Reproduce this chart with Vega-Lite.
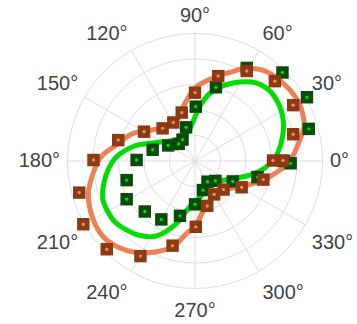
{
  "$schema": "https://vega.github.io/schema/vega-lite/v6.json",
  "width": 255,
  "height": 255,
  "autosize": {"type": "none"},
  "padding": {"left": 67.5, "top": 33.5, "right": 34.5, "bottom": 35.5},
  "background": "white",
  "config": {"view": {"stroke": null}},
  "datasets": {
    "rings": [{"r": 1}, {"r": 2}, {"r": 3}, {"r": 4}, {"r": 5}],
    "spokes": [
      {"x": -5, "y": 0, "x2": 5, "y2": 0},
      {"x": -4.33, "y": -2.5, "x2": 4.33, "y2": 2.5},
      {"x": -2.5, "y": -4.33, "x2": 2.5, "y2": 4.33},
      {"x": 0, "y": -5, "x2": 0, "y2": 5},
      {"x": 2.5, "y": -4.33, "x2": -2.5, "y2": 4.33},
      {"x": 4.33, "y": -2.5, "x2": -4.33, "y2": 2.5}
    ],
    "labels": [
      {"angle": 0, "label": "0°"}, {"angle": 30, "label": "30°"}, {"angle": 60, "label": "60°"},
      {"angle": 90, "label": "90°"}, {"angle": 120, "label": "120°"}, {"angle": 150, "label": "150°"},
      {"angle": 180, "label": "180°"}, {"angle": 210, "label": "210°"}, {"angle": 240, "label": "240°"},
      {"angle": 270, "label": "270°"}, {"angle": 300, "label": "300°"}, {"angle": 330, "label": "330°"}
    ],
    "orangeLine": [
      {"i": 1, "x": 3.725, "y": 0}, {"i": 2, "x": 4.184, "y": 1.02}, {"i": 3, "x": 4.275, "y": 1.541},
      {"i": 4, "x": 4.051, "y": 2.325}, {"i": 5, "x": 3.529, "y": 2.98}, {"i": 6, "x": 2.812, "y": 3.502},
      {"i": 7, "x": 2.027, "y": 3.635}, {"i": 8, "x": 1.373, "y": 3.478}, {"i": 9, "x": 0.902, "y": 3.333},
      {"i": 10, "x": 0.067, "y": 2.914}, {"i": 11, "x": -0.471, "y": 2.129}, {"i": 12, "x": -0.718, "y": 1.608},
      {"i": 13, "x": -1.373, "y": 1.282}, {"i": 14, "x": -2.42, "y": 1.086}, {"i": 15, "x": -3.02, "y": 0.667},
      {"i": 16, "x": -3.725, "y": 0.118}, {"i": 17, "x": -4.118, "y": -0.875}, {"i": 18, "x": -4.184, "y": -1.463},
      {"i": 19, "x": -3.988, "y": -2.314}, {"i": 20, "x": -3.596, "y": -2.969}, {"i": 21, "x": -3.008, "y": -3.384},
      {"i": 22, "x": -2.286, "y": -3.596}, {"i": 23, "x": -1.502, "y": -3.557}, {"i": 24, "x": -0.851, "y": -3.361},
      {"i": 25, "x": -0.325, "y": -2.835}, {"i": 26, "x": 0, "y": -2.576}, {"i": 27, "x": 0.459, "y": -1.725},
      {"i": 28, "x": 0.98, "y": -1.165}, {"i": 29, "x": 1.831, "y": -1.008}, {"i": 30, "x": 2.678, "y": -0.745},
      {"i": 31, "x": 3.333, "y": -0.353}
    ],
    "greenLine": [
      {"i": 1, "x": 3.02, "y": 0}, {"i": 2, "x": 3.294, "y": 0.431}, {"i": 3, "x": 3.471, "y": 1.294},
      {"i": 4, "x": 3.373, "y": 2.0}, {"i": 5, "x": 3.098, "y": 2.549}, {"i": 6, "x": 2.812, "y": 2.851},
      {"i": 7, "x": 2.392, "y": 3.059}, {"i": 8, "x": 2.027, "y": 3.11}, {"i": 9, "x": 1.49, "y": 3.059},
      {"i": 10, "x": 0.98, "y": 2.902}, {"i": 11, "x": 0.549, "y": 2.627}, {"i": 12, "x": 0.263, "y": 2.263},
      {"i": 13, "x": 0, "y": 1.737}, {"i": 14, "x": -0.235, "y": 1.216}, {"i": 15, "x": -0.627, "y": 0.863},
      {"i": 16, "x": -1.243, "y": 0.757}, {"i": 17, "x": -1.765, "y": 0.694}, {"i": 18, "x": -2.42, "y": 0.569},
      {"i": 19, "x": -3.071, "y": 0.169}, {"i": 20, "x": -3.412, "y": -0.353}, {"i": 21, "x": -3.588, "y": -0.941},
      {"i": 22, "x": -3.608, "y": -1.529}, {"i": 23, "x": -3.412, "y": -2.0}, {"i": 24, "x": -3.137, "y": -2.392},
      {"i": 25, "x": -2.678, "y": -2.706}, {"i": 26, "x": -2.157, "y": -2.922}, {"i": 27, "x": -1.502, "y": -2.941},
      {"i": 28, "x": -0.718, "y": -2.443}, {"i": 29, "x": -0.263, "y": -1.855}, {"i": 30, "x": 0.263, "y": -1.333},
      {"i": 31, "x": 0.459, "y": -0.875}, {"i": 32, "x": 1.176, "y": -0.745}, {"i": 33, "x": 2.027, "y": -0.588},
      {"i": 34, "x": 2.627, "y": -0.353}
    ],
    "brownPts": [
      {"x": 3.45, "y": 0.02}, {"x": 3.85, "y": 1.05}, {"x": 3.85, "y": 2.19}, {"x": 3.13, "y": 3.13},
      {"x": 2.03, "y": 3.53}, {"x": 0.91, "y": 3.33}, {"x": 0.0, "y": 2.68}, {"x": -0.52, "y": 1.9},
      {"x": -0.85, "y": 1.51}, {"x": -1.27, "y": 1.28}, {"x": -2.0, "y": 1.15}, {"x": -3.01, "y": 0.82},
      {"x": -3.98, "y": 0.04}, {"x": -4.54, "y": -1.24}, {"x": -4.38, "y": -2.48}, {"x": -3.46, "y": -3.46},
      {"x": -2.14, "y": -3.73}, {"x": -0.88, "y": -3.32}, {"x": 0.03, "y": -2.58}, {"x": 0.48, "y": -1.76},
      {"x": 0.75, "y": -1.31}, {"x": 1.12, "y": -1.12}, {"x": 1.83, "y": -1.03}, {"x": 2.68, "y": -0.73},
      {"x": 3.06, "y": 0.02}
    ],
    "greenPts": [
      {"x": 3.75, "y": -0.09}, {"x": 4.46, "y": 1.26}, {"x": 4.39, "y": 2.5}, {"x": 3.43, "y": 3.47},
      {"x": 2.03, "y": 3.65}, {"x": 0.82, "y": 2.89}, {"x": 0.03, "y": 2.13}, {"x": -0.35, "y": 1.32},
      {"x": -0.49, "y": 0.84}, {"x": -0.64, "y": 0.67}, {"x": -1.05, "y": 0.61}, {"x": -1.66, "y": 0.44},
      {"x": -2.29, "y": 0.04}, {"x": -2.68, "y": -0.75}, {"x": -2.68, "y": -1.5}, {"x": -1.97, "y": -1.98},
      {"x": -1.32, "y": -2.29}, {"x": -0.59, "y": -2.15}, {"x": 0.0, "y": -1.7}, {"x": 0.31, "y": -1.14},
      {"x": 0.49, "y": -0.81}, {"x": 0.8, "y": -0.78}, {"x": 1.48, "y": -0.8}, {"x": 2.45, "y": -0.63},
      {"x": 3.49, "y": 0.0}
    ]
  },
  "layer": [
    {
      "data": {"name": "rings"},
      "mark": {"type": "arc", "theta": 0, "theta2": 6.2832, "filled": false, "stroke": "#dddddd", "strokeWidth": 1},
      "encoding": {
        "radius": {"field": "r", "type": "quantitative", "stack": null, "scale": {"type": "linear", "domain": [0, 5], "range": [0, 127.5], "zero": true}}
      }
    },
    {
      "data": {"name": "spokes"},
      "mark": {"type": "rule", "stroke": "#dddddd", "strokeWidth": 1},
      "encoding": {
        "x": {"field": "x", "type": "quantitative", "scale": {"domain": [-5, 5], "nice": false, "zero": false}, "axis": null},
        "y": {"field": "y", "type": "quantitative", "scale": {"domain": [-5, 5], "nice": false, "zero": false}, "axis": null},
        "x2": {"field": "x2"},
        "y2": {"field": "y2"}
      }
    },
    {
      "data": {"name": "labels"},
      "mark": {
        "type": "text",
        "font": "Liberation Sans",
        "fontSize": 20,
        "fill": "#444444",
        "align": {"expr": "abs(cos(datum.angle*PI/180)) < 0.1 ? 'center' : (cos(datum.angle*PI/180) > 0 ? 'left' : 'right')"},
        "baseline": {"expr": "abs(sin(datum.angle*PI/180)) < 0.1 ? 'middle' : (sin(datum.angle*PI/180) > 0 ? 'bottom' : 'top')"},
        "dy": {"expr": "sin(datum.angle*PI/180) < -0.1 ? 5 : 0"}
      },
      "encoding": {
        "theta": {"field": "angle", "type": "quantitative", "scale": {"domain": [0, 360], "range": [1.5707963, -4.712389]}},
        "radius": {"datum": 5.29, "type": "quantitative", "scale": {"type": "linear", "domain": [0, 5], "range": [0, 127.5], "zero": true}},
        "text": {"field": "label"}
      }
    },
    {
      "data": {"name": "greenLine"},
      "mark": {"type": "line", "interpolate": "cardinal-closed", "stroke": "#00dd00", "strokeWidth": 5},
      "encoding": {
        "x": {"field": "x", "type": "quantitative", "scale": {"domain": [-5, 5], "nice": false, "zero": false}, "axis": null},
        "y": {"field": "y", "type": "quantitative", "scale": {"domain": [-5, 5], "nice": false, "zero": false}, "axis": null},
        "order": {"field": "i"}
      }
    },
    {
      "data": {"name": "orangeLine"},
      "mark": {"type": "line", "interpolate": "cardinal-closed", "stroke": "#ee8055", "strokeWidth": 5},
      "encoding": {
        "x": {"field": "x", "type": "quantitative", "scale": {"domain": [-5, 5], "nice": false, "zero": false}, "axis": null},
        "y": {"field": "y", "type": "quantitative", "scale": {"domain": [-5, 5], "nice": false, "zero": false}, "axis": null},
        "order": {"field": "i"}
      }
    },
    {
      "data": {"name": "greenPts"},
      "mark": {"type": "point", "shape": "square", "filled": true, "size": 155, "opacity": 1, "fill": "#0a4a0a"},
      "encoding": {
        "x": {"field": "x", "type": "quantitative", "scale": {"domain": [-5, 5], "nice": false, "zero": false}, "axis": null},
        "y": {"field": "y", "type": "quantitative", "scale": {"domain": [-5, 5], "nice": false, "zero": false}, "axis": null}
      }
    },
    {
      "data": {"name": "greenPts"},
      "mark": {"type": "point", "shape": "circle", "filled": true, "size": 11, "opacity": 1, "fill": "#00e000"},
      "encoding": {
        "x": {"field": "x", "type": "quantitative"},
        "y": {"field": "y", "type": "quantitative"}
      }
    },
    {
      "data": {"name": "brownPts"},
      "mark": {"type": "point", "shape": "square", "filled": true, "size": 155, "opacity": 1, "fill": "#8b3a13"},
      "encoding": {
        "x": {"field": "x", "type": "quantitative"},
        "y": {"field": "y", "type": "quantitative"}
      }
    },
    {
      "data": {"name": "brownPts"},
      "mark": {"type": "point", "shape": "circle", "filled": true, "size": 11, "opacity": 1, "fill": "#f08a60"},
      "encoding": {
        "x": {"field": "x", "type": "quantitative"},
        "y": {"field": "y", "type": "quantitative"}
      }
    }
  ]
}
